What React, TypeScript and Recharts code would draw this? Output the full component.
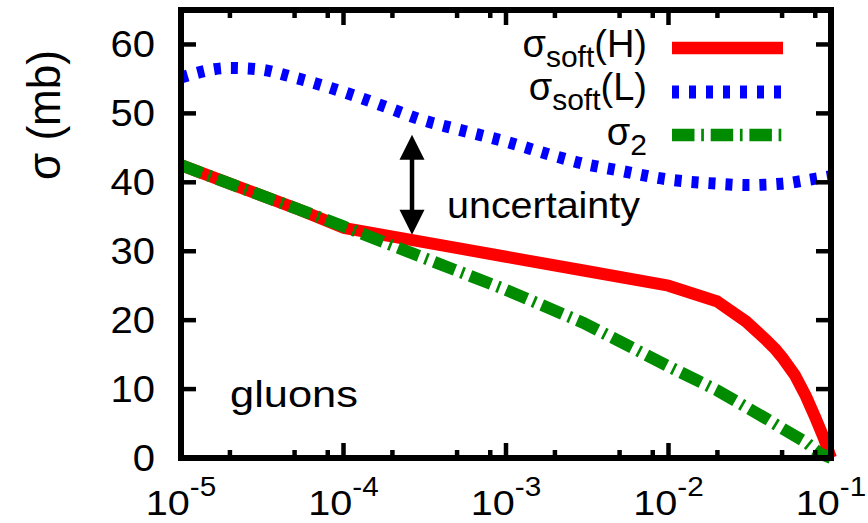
import { LineChart, Line, XAxis, YAxis, ReferenceLine } from "recharts";

// x tick positions (log axis); minor ticks at 2, 5, 8 of each decade
const xMajor = [1e-5, 1e-4, 1e-3, 1e-2, 1e-1];
const xMinor = [2e-5, 5e-5, 8e-5, 2e-4, 5e-4, 8e-4, 2e-3, 5e-3, 8e-3, 2e-2, 5e-2, 8e-2];
const yTicks = [0, 10, 20, 30, 40, 50, 60];

// sigma_soft(H)
const hardX = [1e-5, 2e-5, 5e-5, 1e-4, 3e-4, 1e-3, 3e-3, 1e-2, 2e-2, 3e-2, 4e-2, 4.5e-2, 5e-2, 6e-2, 7e-2, 8e-2, 9e-2, 1e-1];
const hardY = [42.5, 39.8, 36.3, 33.4, 31.4, 29.2, 27.2, 25.0, 22.7, 19.8, 17.1, 15.9, 14.6, 12.0, 9.0, 5.9, 3.0, 0];

// sigma_soft(L)
const lightX = [1e-5, 2e-5, 3e-5, 5e-5, 1e-4, 2e-4, 3e-4, 5e-4, 1e-3, 2e-3, 3e-3, 5e-3, 1e-2, 2e-2, 3e-2, 5e-2, 7e-2, 1e-1];
const lightY = [55.2, 56.6, 56.4, 55.2, 53.1, 50.6, 49.1, 47.7, 45.9, 43.8, 42.7, 41.7, 40.4, 39.8, 39.6, 39.8, 40.3, 40.9];

// sigma_2
const twoX = [1e-5, 2e-5, 5e-5, 1e-4, 3e-4, 1e-3, 3e-3, 1e-2, 2e-2, 3e-2, 4e-2, 5e-2, 7e-2, 8.5e-2, 1e-1];
const twoY = [42.5, 39.8, 36.3, 33.6, 29.2, 24.4, 19.6, 13.3, 9.8, 7.4, 5.7, 4.3, 2.3, 0.7, 0];

const seriesNames = ["soft(H)", "soft(L)", "2"];

// uncertainty arrow (data coordinates)
const arrowX = 2.64e-4;
const arrowTop = 46.9;
const arrowBottom = 32.4;

const toPoints = (xs: number[], ys: number[]) => xs.map((x, i) => ({ x, y: ys[i] }));

const RED = "#ff0000";
const BLUE = "#0000ff";
const GREEN = "#008b00";
const FONT = "'Liberation Sans', Arial, Helvetica, sans-serif";
const BLUE_DASH = "7 10";
const GREEN_DASH = "22.5 6.7 2.7 6.8";

const BottomTick = (props: any) => {
  const { x, y, payload } = props;
  const v = payload.value as number;
  const major = xMajor.includes(v);
  const exp = Math.round(Math.log10(v));
  return (
    <g>
      <line x1={x} x2={x} y1={y} y2={y - (major ? 15 : 8)} stroke="#000" strokeWidth={4.5} />
      {major && (
        <text
          transform={`translate(${x},${y + 57}) scale(1.1,1)`}
          textAnchor="middle"
          fontSize={36}
          fontFamily={FONT}
          fill="#000"
        >
          10
          <tspan dy={-19} fontSize={27}>
            {`${exp}`}
          </tspan>
        </text>
      )}
    </g>
  );
};

const TopTick = (props: any) => {
  const { x, y, payload } = props;
  const major = xMajor.includes(payload.value);
  return <line x1={x} x2={x} y1={y} y2={y + (major ? 15 : 8)} stroke="#000" strokeWidth={4.5} />;
};

const LeftTick = (props: any) => {
  const { x, y, payload } = props;
  return (
    <g>
      <line x1={x} x2={x + 15} y1={y} y2={y} stroke="#000" strokeWidth={4.5} />
      <text
        transform={`translate(${x - 26},${y + 13}) scale(1.08,1)`}
        textAnchor="end"
        fontSize={37}
        fontFamily={FONT}
        fill="#000"
      >
        {payload.value}
      </text>
    </g>
  );
};

const RightTick = (props: any) => {
  const { x, y } = props;
  return <line x1={x} x2={x - 15} y1={y} y2={y} stroke="#000" strokeWidth={4.5} />;
};

const ArrowShape = (p: any) => {
  const x = p.x1;
  const top = Math.min(p.y1, p.y2);
  const bot = Math.max(p.y1, p.y2);
  const hw = 12.5;
  const hh = 25;
  return (
    <g>
      <line x1={x} x2={x} y1={top + hh - 2} y2={bot - hh + 2} stroke="#000" strokeWidth={4.5} />
      <polygon points={`${x},${top} ${x - hw},${top + hh} ${x + hw},${top + hh}`} fill="#000" />
      <polygon points={`${x},${bot} ${x - hw},${bot - hh} ${x + hw},${bot - hh}`} fill="#000" />
    </g>
  );
};

const frameLine = { stroke: "#000", strokeWidth: 6, strokeLinecap: "square" as const };

export default function App() {
  const allX = [...xMajor, ...xMinor].sort((a, b) => a - b);
  const lightPts = toPoints(lightX, lightY);
  return (
    <div style={{ position: "absolute", left: 0, top: 0, width: 868, height: 523, background: "#fff" }}>
      <LineChart width={868} height={523} margin={{ top: 9, right: 36, bottom: 0, left: 0 }}>
        <XAxis
          dataKey="x"
          type="number"
          scale="log"
          domain={[1e-5, 1e-1]}
          ticks={allX}
          interval={0}
          height={65}
          tickSize={0}
          tickMargin={0}
          axisLine={frameLine}
          tickLine={false}
          tick={<BottomTick />}
        />
        <XAxis
          xAxisId="top"
          orientation="top"
          dataKey="x"
          type="number"
          scale="log"
          domain={[1e-5, 1e-1]}
          ticks={allX}
          interval={0}
          height={1}
          tickSize={0}
          tickMargin={0}
          axisLine={frameLine}
          tickLine={false}
          tick={<TopTick />}
        />
        <YAxis
          type="number"
          domain={[0, 65]}
          ticks={yTicks}
          interval={0}
          width={181}
          tickSize={0}
          tickMargin={0}
          axisLine={frameLine}
          tickLine={false}
          tick={<LeftTick />}
        />
        <YAxis
          yAxisId="right"
          orientation="right"
          type="number"
          domain={[0, 65]}
          ticks={yTicks}
          interval={0}
          width={1}
          tickSize={0}
          tickMargin={0}
          axisLine={frameLine}
          tickLine={false}
          tick={<RightTick />}
        />
        {/* invisible series so the top and right axes are drawn */}
        <Line
          xAxisId="top"
          data={lightPts}
          dataKey="y"
          stroke="none"
          strokeOpacity={0}
          dot={false}
          activeDot={false}
          legendType="none"
          isAnimationActive={false}
        />
        <Line
          yAxisId="right"
          data={lightPts}
          dataKey="y"
          stroke="none"
          strokeOpacity={0}
          dot={false}
          activeDot={false}
          legendType="none"
          isAnimationActive={false}
        />
        <ReferenceLine
          segment={[
            { x: arrowX, y: arrowTop },
            { x: arrowX, y: arrowBottom },
          ]}
          shape={ArrowShape}
        />
        <Line
          data={toPoints(hardX, hardY)}
          dataKey="y"
          type="linear"
          stroke={RED}
          strokeWidth={12}
          strokeLinejoin="round"
          dot={false}
          activeDot={false}
          isAnimationActive={false}
        />
        <Line
          data={lightPts}
          dataKey="y"
          type="monotone"
          stroke={BLUE}
          strokeWidth={12}
          strokeDasharray={BLUE_DASH}
          dot={false}
          activeDot={false}
          isAnimationActive={false}
        />
        <Line
          data={toPoints(twoX, twoY)}
          dataKey="y"
          type="linear"
          stroke={GREEN}
          strokeWidth={12}
          strokeDasharray={GREEN_DASH}
          dot={false}
          activeDot={false}
          isAnimationActive={false}
        />
      </LineChart>
      <svg
        width={868}
        height={523}
        style={{ position: "absolute", left: 0, top: 0, pointerEvents: "none" }}
        fontFamily={FONT}
        fill="#000"
      >
        <text
          transform="translate(60,115) rotate(-90)"
          textAnchor="middle"
          fontSize={46}
          textLength={130}
          lengthAdjust="spacingAndGlyphs"
        >
          σ (mb)
        </text>
        <text x={447} y={218} fontSize={37} textLength={193} lengthAdjust="spacingAndGlyphs">
          uncertainty
        </text>
        <text x={230} y={407} fontSize={37} textLength={128} lengthAdjust="spacingAndGlyphs">
          gluons
        </text>

        <text x={647} y={57} textAnchor="end" fontSize={38}>
          σ<tspan dy={10} fontSize={30}>{seriesNames[0].slice(0, 4)}</tspan>
          <tspan dy={-10}>{seriesNames[0].slice(4)}</tspan>
        </text>
        <line x1={672} x2={783} y1={48} y2={48} stroke={RED} strokeWidth={12.5} />

        <text x={647} y={100} textAnchor="end" fontSize={38}>
          σ<tspan dy={10} fontSize={30}>{seriesNames[1].slice(0, 4)}</tspan>
          <tspan dy={-10}>{seriesNames[1].slice(4)}</tspan>
        </text>
        <line x1={672} x2={783} y1={92} y2={92} stroke={BLUE} strokeWidth={13} strokeDasharray={BLUE_DASH} />

        <text x={647} y={145} textAnchor="end" fontSize={38}>
          σ<tspan dy={10} fontSize={30}>{seriesNames[2]}</tspan>
        </text>
        <line x1={672} x2={783} y1={135} y2={135} stroke={GREEN} strokeWidth={12.5} strokeDasharray={GREEN_DASH} />
      </svg>
    </div>
  );
}
